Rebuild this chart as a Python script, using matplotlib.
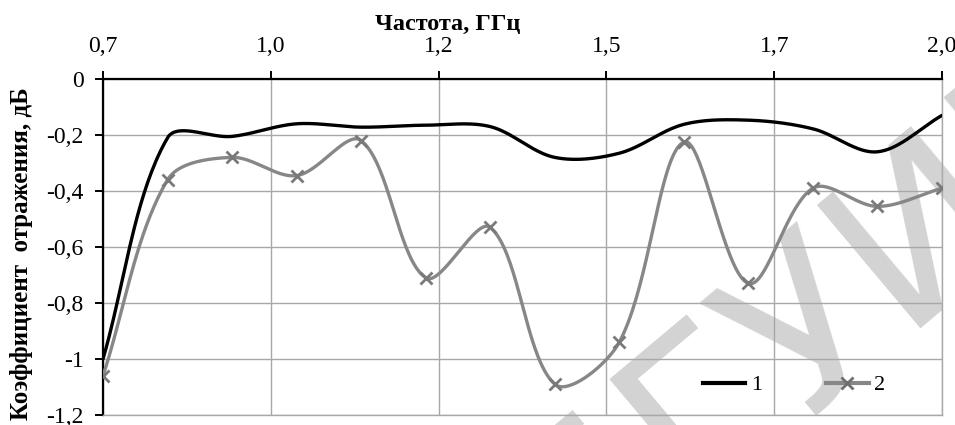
import numpy as np
import matplotlib
matplotlib.use("Agg")
import matplotlib.pyplot as plt
from matplotlib.lines import Line2D

# ---- data ----
freq = [0.7, 0.8, 0.9, 1.0, 1.1, 1.2, 1.3, 1.4, 1.5, 1.6, 1.7, 1.8, 1.9, 2.0]
series1 = [-1.00, -0.21, -0.205, -0.16, -0.172, -0.165, -0.17, -0.28, -0.265,
           -0.162, -0.147, -0.178, -0.26, -0.13]
series2 = [-1.06, -0.36, -0.28, -0.345, -0.22, -0.71, -0.53, -1.09, -0.94,
           -0.225, -0.73, -0.39, -0.455, -0.39]
series_names = ["1", "2"]
xtick_vals = [0.7, 0.96, 1.22, 1.48, 1.74, 2.0]
xtick_labels = ["0,7", "1,0", "1,2", "1,5", "1,7", "2,0"]
ytick_vals = [0, -0.2, -0.4, -0.6, -0.8, -1.0, -1.2]
ytick_labels = ["0", "-0,2", "-0,4", "-0,6", "-0,8", "-1", "-1,2"]
title = "Частота, ГГц"
ylabel = "Коэффициент  отражения, дБ"
watermark = "БГУИР"

SERIF = ["Liberation Serif", "DejaVu Serif"]


def excel_smooth(x, y, sx, sy, n=40):
    """Excel-like smoothed line (Bezier segments, chord-weighted tangents)."""
    P = np.column_stack([np.asarray(x) * sx, np.asarray(y) * sy])
    out = []
    m = len(P)
    for i in range(m - 1):
        p0 = P[i - 1] if i > 0 else P[i]
        p1, p2 = P[i], P[i + 1]
        p3 = P[i + 2] if i + 2 < m else P[i + 1]
        d01 = np.linalg.norm(p1 - p0)
        d12 = np.linalg.norm(p2 - p1)
        d23 = np.linalg.norm(p3 - p2)
        f1 = d12 / (d01 + d12) if d01 + d12 > 0 else 0.5
        f2 = d12 / (d12 + d23) if d12 + d23 > 0 else 0.5
        c1 = p1 + (p2 - p0) * f1 / 3.0
        c2 = p2 - (p3 - p1) * f2 / 3.0
        t = np.linspace(0, 1, n)[:, None]
        seg = ((1 - t) ** 3) * p1 + 3 * ((1 - t) ** 2) * t * c1 + 3 * (1 - t) * t ** 2 * c2 + t ** 3 * p2
        if i > 0:
            seg = seg[1:]
        out.append(seg)
    B = np.vstack(out)
    return B[:, 0] / sx, B[:, 1] / sy


fig = plt.figure(figsize=(9.55, 4.25), dpi=100)
fig.patch.set_facecolor("white")
ax = fig.add_axes([103 / 955, 1 - 415 / 425, (942 - 103) / 955, (415 - 79) / 425])
ax.set_facecolor("none")

# watermark (behind axes content)
fig.text(575 / 955, 1 - 600 / 425, watermark, fontsize=160, fontweight="normal",
         family=["DejaVu Sans"], color="#d3d3d3", rotation=40,
         rotation_mode="anchor", ha="left", va="baseline", zorder=-5)

ax.set_xlim(0.7, 2.0)
ax.set_ylim(-1.2, 0)

sx = 839 / 1.3
sy = 280.0
xs1, ys1 = excel_smooth(freq, series1, sx, sy)
xs2, ys2 = excel_smooth(freq, series2, sx, sy)

ax.plot(xs2, ys2, color="#878787", lw=2.4, solid_capstyle="round", zorder=3)
ax.plot(freq, series2, linestyle="none", marker="x", ms=8, mew=2.0,
        color="#7a7a7a", zorder=4)
ax.plot(xs1, ys1, color="black", lw=2.4, solid_capstyle="round", zorder=5)

# axes styling
ax.xaxis.tick_top()
ax.set_xticks(xtick_vals)
ax.set_xticklabels(xtick_labels)
ax.set_yticks(ytick_vals)
ax.set_yticklabels(ytick_labels)
ax.grid(True, color="#a8a8a8", lw=1.0, zorder=0)
ax.set_axisbelow(True)
for s in ["top", "left"]:
    ax.spines[s].set_color("black")
    ax.spines[s].set_linewidth(1.6)
for s in ["bottom", "right"]:
    ax.spines[s].set_color("#a8a8a8")
    ax.spines[s].set_linewidth(1.0)
ax.tick_params(axis="x", which="both", top=True, bottom=False, direction="out",
               length=6, width=1.4, pad=10, labelsize=17, colors="black")
ax.tick_params(axis="y", which="both", left=True, right=False, direction="out",
               length=6, width=1.4, pad=8, labelsize=17, colors="black")
for lab in ax.get_xticklabels() + ax.get_yticklabels():
    lab.set_family(SERIF)

fig.text(448 / 955, 1 - 24 / 425, title, fontsize=17.5, fontweight="bold",
         family=SERIF, ha="center", va="center")
fig.text(22 / 955, 1 - 254 / 425, ylabel, fontsize=18, fontweight="bold",
         family=SERIF, ha="center", va="center", rotation=90)

handles = [Line2D([], [], color="black", lw=3.0),
           Line2D([], [], color="#878787", lw=3.0, marker="x", ms=8, mew=2.0,
                  markeredgecolor="#6f6f6f")]
leg = ax.legend(handles, series_names, loc="center left",
                bbox_to_anchor=((703 - 103) / 839, (415 - 385) / 336),
                ncol=2, frameon=False, borderpad=0, borderaxespad=0,
                handlelength=1.9, handletextpad=0.25, columnspacing=2.9,
                prop={"family": SERIF, "size": 16})

fig.savefig("out.png", dpi=100, facecolor="white")
